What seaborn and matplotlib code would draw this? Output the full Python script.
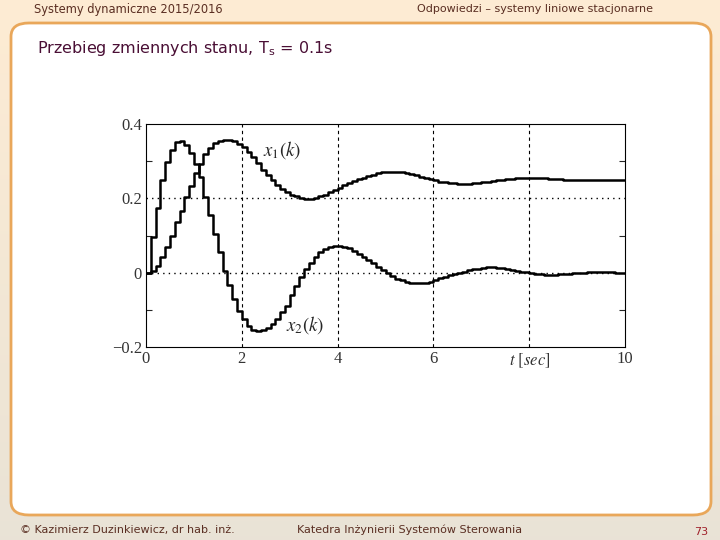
import numpy as np
import matplotlib
matplotlib.use('Agg')
import matplotlib.pyplot as plt
import seaborn as sns
from matplotlib.patches import FancyBboxPatch

# sample time and state trajectories (Ts = 0.1 s)
Ts = 0.1
x1 = [0.0, 0.005, 0.018, 0.041, 0.068, 0.1, 0.135, 0.167, 0.203, 0.234,
      0.268, 0.293, 0.318, 0.336, 0.348, 0.355, 0.358, 0.358, 0.354, 0.347,
      0.337, 0.324, 0.31, 0.294, 0.277, 0.262, 0.248, 0.236, 0.226, 0.217,
      0.21, 0.205, 0.201, 0.199, 0.199, 0.201, 0.205, 0.21, 0.216, 0.223,
      0.229, 0.235, 0.241, 0.246, 0.251, 0.256, 0.26, 0.264, 0.267, 0.27,
      0.271, 0.272, 0.271, 0.27, 0.268, 0.265, 0.262, 0.258, 0.255, 0.251,
      0.248, 0.245, 0.243, 0.241, 0.24, 0.239, 0.239, 0.239, 0.24, 0.242,
      0.243, 0.245, 0.247, 0.249, 0.25, 0.252, 0.253, 0.254, 0.255, 0.255,
      0.255, 0.255, 0.254, 0.254, 0.253, 0.252, 0.251, 0.25, 0.249, 0.249,
      0.248, 0.248, 0.248, 0.248, 0.248, 0.248, 0.248, 0.248, 0.248, 0.248,
      0.248]
x2 = [0.0, 0.095, 0.175, 0.25, 0.297, 0.33, 0.351, 0.353, 0.343, 0.321,
      0.293, 0.257, 0.203, 0.155, 0.104, 0.055, 0.005, -0.032, -0.071, -0.102,
      -0.125, -0.143, -0.154, -0.156, -0.155, -0.148, -0.138, -0.125, -0.107, -0.089,
      -0.059, -0.035, -0.012, 0.01, 0.026, 0.041, 0.055, 0.064, 0.068, 0.071,
      0.073, 0.07, 0.066, 0.058, 0.051, 0.043, 0.035, 0.025, 0.016, 0.007,
      -0.002, -0.01, -0.016, -0.021, -0.025, -0.028, -0.029, -0.029, -0.027, -0.024,
      -0.02, -0.015, -0.011, -0.007, -0.003, 0.0, 0.003, 0.006, 0.009, 0.011,
      0.013, 0.014, 0.014, 0.013, 0.012, 0.01, 0.008, 0.005, 0.003, 0.001,
      -0.001, -0.003, -0.004, -0.005, -0.005, -0.005, -0.004, -0.004, -0.003, -0.002,
      -0.001, 0.0, 0.001, 0.001, 0.001, 0.001, 0.001, 0.001, 0.0, 0.0,
      0.0]
t = [k * Ts for k in range(len(x1))]

xticks = [0, 2, 4, 6, 8, 10]
xtick_labels = ['0', '2', '4', '6', r'$t\ [sec]$', '10']
yticks = [-0.2, 0, 0.2, 0.4]
ytick_labels = ['\u22120.2', '0', '0.2', '0.4']

sns.set_style('white')
plt.rcParams['font.family'] = ['DejaVu Sans']
plt.rcParams['mathtext.fontset'] = 'stix'

fig = plt.figure(figsize=(7.2, 5.4), dpi=100)

# slide background: peach on top fading to grey-beige
bg = fig.add_axes([0, 0, 1, 1], zorder=-10)
grad = np.linspace(0, 1, 256).reshape(-1, 1)
top = np.array([0.995, 0.925, 0.83])
bot = np.array([0.915, 0.89, 0.84])
img = top + (bot - top) * grad[:, :, None]
bg.imshow(img, aspect='auto', extent=[0, 1, 0, 1], origin='upper')
bg.set_xlim(0, 1)
bg.set_ylim(0, 1)
bg.axis('off')
box = FancyBboxPatch((11 / 720, 1 - 515 / 540), 700 / 720, 492 / 540,
                     boxstyle='round,pad=0,rounding_size=0.025',
                     transform=bg.transAxes, facecolor='white',
                     edgecolor='#e9a75a', linewidth=2)
bg.add_patch(box)

hdr = '#5a2e22'
fig.text(34 / 720, 1 - 9 / 540, 'Systemy dynamiczne 2015/2016', fontsize=8.3,
         color=hdr, va='center', ha='left')
fig.text(417 / 720, 1 - 9 / 540, 'Odpowiedzi \u2013 systemy liniowe stacjonarne',
         fontsize=8, color=hdr, va='center', ha='left')
fig.text(37 / 720, 1 - 49 / 540, 'Przebieg zmiennych stanu, T$_{\\mathregular{s}}$ = 0.1s',
         fontsize=11.5, color='#4a0f35', va='center', ha='left')
fig.text(20 / 720, 1 - 530 / 540, '\u00a9 Kazimierz Duzinkiewicz, dr hab. in\u017c.',
         fontsize=8, color=hdr, va='center', ha='left')
fig.text(297 / 720, 1 - 530 / 540, 'Katedra In\u017cynierii System\u00f3w Sterowania',
         fontsize=8, color=hdr, va='center', ha='left')
fig.text(708 / 720, 1 - 532 / 540, '73', fontsize=8, color='#a0202a',
         va='center', ha='right')

# the chart itself
ax = fig.add_axes([146 / 720, 1 - 347 / 540, 479 / 720, 223 / 540])
ax.set_facecolor('white')
sns.lineplot(x=t, y=x1, drawstyle='steps-post', color='black', linewidth=1.8, ax=ax)
sns.lineplot(x=t, y=x2, drawstyle='steps-post', color='black', linewidth=1.8, ax=ax)

for xv in [2, 4, 6, 8]:
    ax.axvline(xv, color='black', linestyle=(0, (3, 3)), linewidth=0.8, zorder=0)
for yv in [0, 0.2]:
    ax.axhline(yv, color='black', linestyle=(0, (1, 3)), linewidth=1.0, zorder=0)

ax.set_xlim(0, 10)
ax.set_ylim(-0.2, 0.4)
ax.set_xticks(xticks)
ax.set_xticklabels(xtick_labels)
ax.set_yticks(yticks)
ax.set_yticklabels(ytick_labels)
ax.set_yticks([-0.1, 0.1, 0.3], minor=True)
ax.tick_params(axis='both', which='major', length=0, labelsize=12,
               labelcolor='#333333', pad=3)
ax.tick_params(axis='y', which='minor', direction='in', length=4,
               left=True, right=True, width=0.8)
for lab in ax.get_xticklabels() + ax.get_yticklabels():
    lab.set_fontfamily('Liberation Serif')
for s in ax.spines.values():
    s.set_color('black')
    s.set_linewidth(0.8)

ax.text(2.45, 0.33, r'$x_1(k)$', fontsize=13.5, ha='left', va='center')
ax.text(2.93, -0.14, r'$x_2(k)$', fontsize=13.5, ha='left', va='center')

fig.savefig('out.png', dpi=100)
